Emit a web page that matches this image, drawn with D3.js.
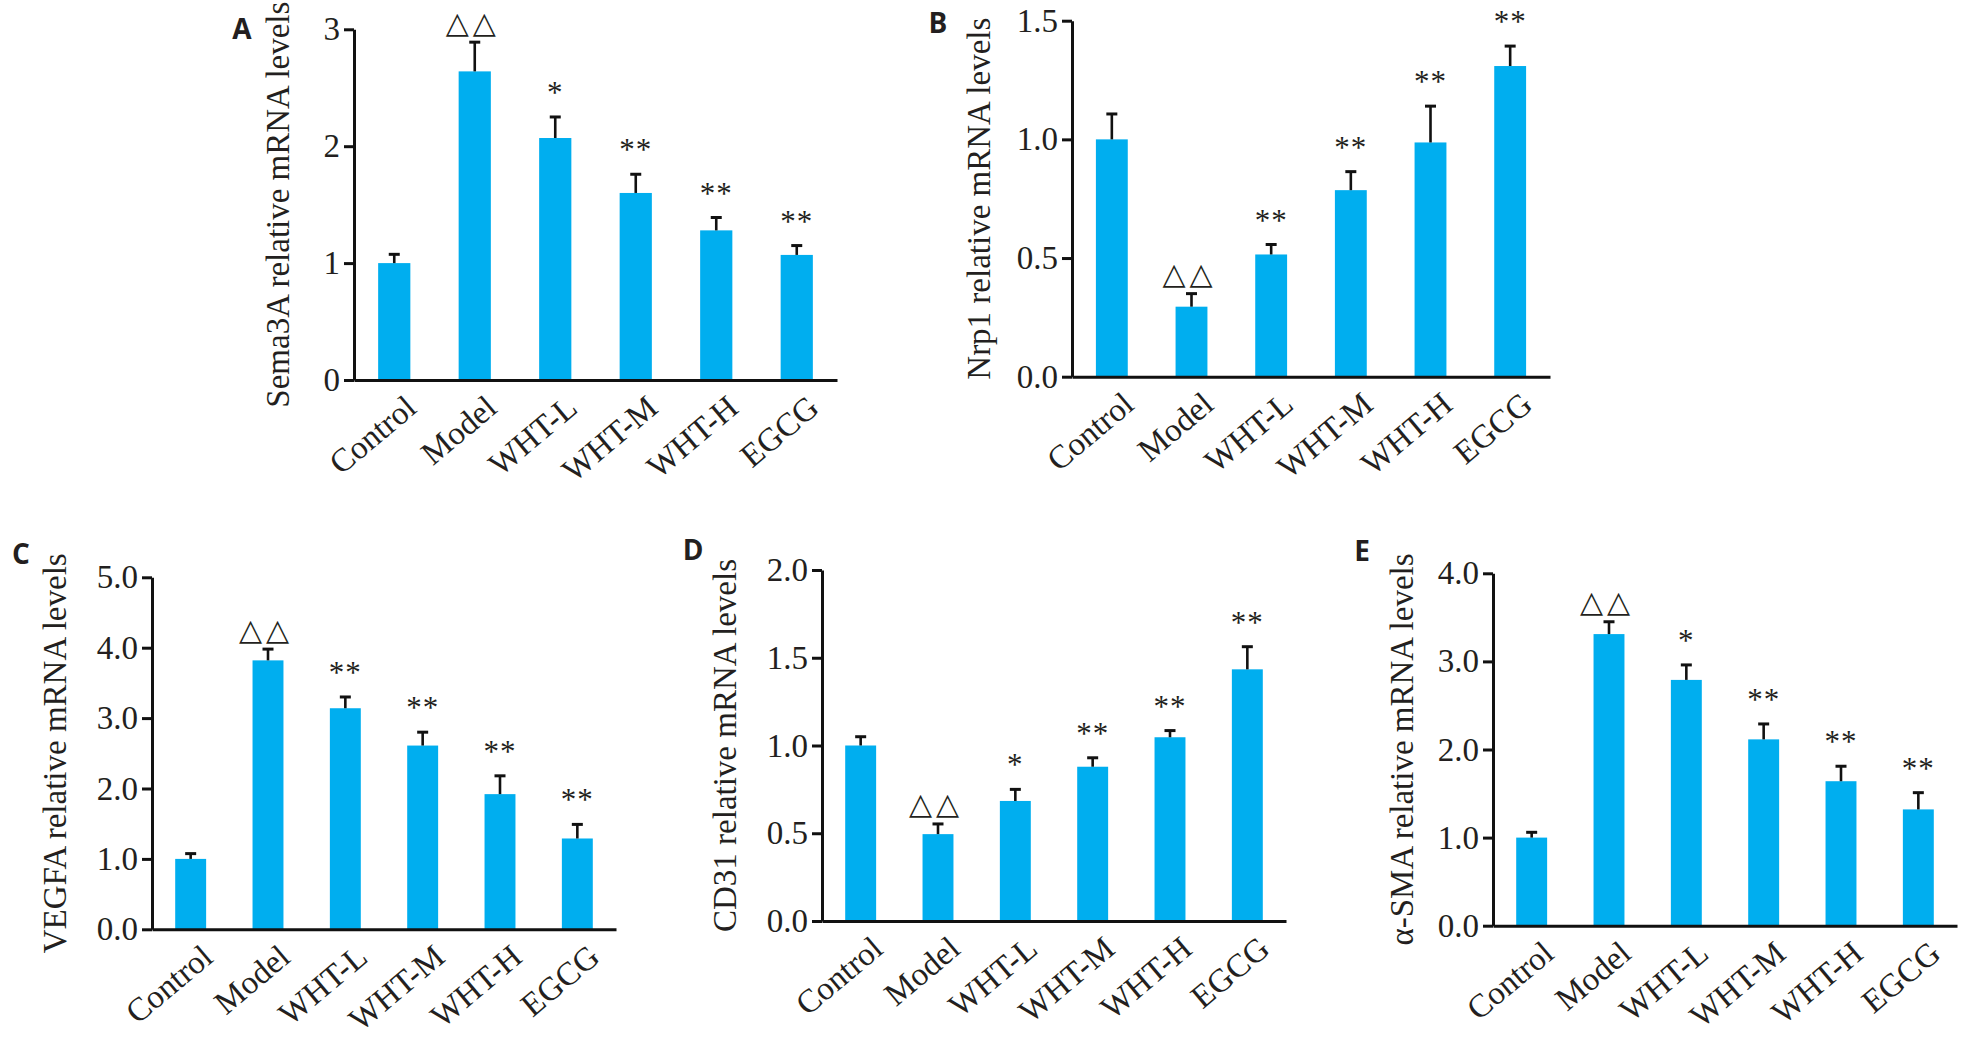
<!DOCTYPE html>
<html lang="en">
<head>
  <meta charset="UTF-8">
  <title>Relative mRNA levels</title>
  <script src="https://d3js.org/d3.v7.min.js"></script>
  <style>
    body {
      margin: 0;
      background: #fff;
    }
    svg {
      display: block;
    }
    .serif {
      font-family: "Liberation Serif", "Times New Roman", serif;
      fill: #231f20;
    }
    .panel-label {
      font-family: "Open Sans", "Liberation Sans", sans-serif;
      font-weight: 700;
      font-size: 28px;
      fill: #231f20;
    }
  </style>
</head>
<body>
  <div id="chart"></div>

  <script>
    // groups shared by every panel
    const groups = ["Control", "Model", "WHT-L", "WHT-M", "WHT-H", "EGCG"];

    // A: Sema3A
    const sema3aMean = [1.00, 2.64, 2.07, 1.60, 1.28, 1.07];
    const sema3aErr  = [0.075, 0.25, 0.18, 0.16, 0.11, 0.08];
    const sema3aSig  = ["", "△△", "*", "**", "**", "**"];
    const sema3aTicks = [0, 1, 2, 3];

    // B: Nrp1
    const nrp1Mean = [1.00, 0.295, 0.515, 0.786, 0.987, 1.309];
    const nrp1Err  = [0.107, 0.055, 0.042, 0.078, 0.153, 0.084];
    const nrp1Sig  = ["", "△△", "**", "**", "**", "**"];
    const nrp1Ticks = [0, 0.5, 1.0, 1.5];

    // C: VEGFA
    const vegfaMean = [1.00, 3.82, 3.14, 2.61, 1.92, 1.29];
    const vegfaErr  = [0.075, 0.16, 0.16, 0.19, 0.26, 0.20];
    const vegfaSig  = ["", "△△", "**", "**", "**", "**"];
    const vegfaTicks = [0, 1, 2, 3, 4, 5];

    // D: CD31
    const cd31Mean = [1.00, 0.495, 0.684, 0.879, 1.047, 1.434];
    const cd31Err  = [0.05, 0.058, 0.066, 0.051, 0.038, 0.129];
    const cd31Sig  = ["", "△△", "*", "**", "**", "**"];
    const cd31Ticks = [0, 0.5, 1.0, 1.5, 2.0];

    // E: alpha-SMA
    const smaMean = [1.00, 3.31, 2.79, 2.115, 1.64, 1.32];
    const smaErr  = [0.06, 0.14, 0.17, 0.175, 0.17, 0.19];
    const smaSig  = ["", "△△", "*", "**", "**", "**"];
    const smaTicks = [0, 1, 2, 3, 4];

    const W = 1967, H = 1038;
    const barColor = "#00aeef";

    const panels = [
      { label: "A", title: "Sema3A relative mRNA levels", mean: sema3aMean, err: sema3aErr, sig: sema3aSig,
        ticks: sema3aTicks, fmt: d3.format("d"),
        x0: 354, x1: 837, yTop: 29.3, yBot: 380, labelPos: [242, 28], titleOff: 76 },
      { label: "B", title: "Nrp1 relative mRNA levels", mean: nrp1Mean, err: nrp1Err, sig: nrp1Sig,
        ticks: nrp1Ticks, fmt: d3.format(".1f"),
        x0: 1072, x1: 1550, yTop: 20.7, yBot: 376.7, labelPos: [938, 22], titleOff: 93 },
      { label: "C", title: "VEGFA relative mRNA levels", mean: vegfaMean, err: vegfaErr, sig: vegfaSig,
        ticks: vegfaTicks, fmt: d3.format(".1f"),
        x0: 152, x1: 616, yTop: 577.3, yBot: 929.3, labelPos: [21, 553], titleOff: 97 },
      { label: "D", title: "CD31 relative mRNA levels", mean: cd31Mean, err: cd31Err, sig: cd31Sig,
        ticks: cd31Ticks, fmt: d3.format(".1f"),
        x0: 822, x1: 1286, yTop: 570, yBot: 921, labelPos: [693, 549], titleOff: 97 },
      { label: "E", title: "α-SMA relative mRNA levels", mean: smaMean, err: smaErr, sig: smaSig,
        ticks: smaTicks, fmt: d3.format(".1f"),
        x0: 1493, x1: 1957, yTop: 573.3, yBot: 925.7, labelPos: [1362, 550], titleOff: 91 }
    ];

    const svg = d3.select("#chart")
      .append("svg")
      .attr("width", W)
      .attr("height", H)
      .attr("viewBox", `0 0 ${W} ${H}`);

    panels.forEach(p => {
      const g = svg.append("g");

      const x = d3.scaleBand()
        .domain(groups)
        .range([p.x0, p.x1])
        .paddingInner(0.6)
        .paddingOuter(0.3);

      const y = d3.scaleLinear()
        .domain([0, d3.max(p.ticks)])
        .range([p.yBot, p.yTop]);

      const rows = groups.map((grp, i) => ({ grp, mean: p.mean[i], err: p.err[i], sig: p.sig[i] }));

      // bars
      g.selectAll("rect.bar")
        .data(rows)
        .enter()
        .append("rect")
        .attr("class", "bar")
        .attr("x", d => x(d.grp))
        .attr("width", x.bandwidth())
        .attr("y", d => y(d.mean))
        .attr("height", d => y(0) - y(d.mean))
        .attr("fill", barColor);

      // error bars (upper half only)
      const eb = g.selectAll("g.err")
        .data(rows)
        .enter()
        .append("g")
        .attr("class", "err")
        .attr("transform", d => `translate(${x(d.grp) + x.bandwidth() / 2},0)`);

      eb.append("line")
        .attr("x1", 0).attr("x2", 0)
        .attr("y1", d => y(d.mean))
        .attr("y2", d => y(d.mean + d.err))
        .attr("stroke", "#111")
        .attr("stroke-width", 2.6);

      eb.append("line")
        .attr("x1", -5.5).attr("x2", 5.5)
        .attr("y1", d => y(d.mean + d.err))
        .attr("y2", d => y(d.mean + d.err))
        .attr("stroke", "#111")
        .attr("stroke-width", 3);

      // significance marks
      eb.filter(d => d.sig.startsWith("*"))
        .append("text")
        .attr("class", "serif")
        .attr("text-anchor", "middle")
        .attr("y", d => y(d.mean + d.err) - 14)
        .style("font-size", "31px")
        .style("letter-spacing", "1px")
        .text(d => d.sig);

      eb.filter(d => d.sig.startsWith("△"))
        .append("text")
        .attr("text-anchor", "middle")
        .attr("dominant-baseline", "central")
        .attr("dx", -2)
        .attr("y", d => y(d.mean + d.err) - 20)
        .style("font-family", "'DejaVu Sans', sans-serif")
        .style("font-size", "30px")
        .style("letter-spacing", "4px")
        .style("fill", "#231f20")
        .text(d => d.sig);

      // y axis
      const yAxis = g.append("g")
        .attr("transform", `translate(${p.x0},0)`)
        .call(d3.axisLeft(y)
          .tickValues(p.ticks)
          .tickFormat(p.fmt)
          .tickSize(10)
          .tickSizeOuter(0)
          .tickPadding(4));

      yAxis.select(".domain").attr("stroke", "#111").attr("stroke-width", 3);
      yAxis.selectAll(".tick line").attr("stroke", "#111").attr("stroke-width", 3);
      yAxis.selectAll(".tick text")
        .attr("class", "serif")
        .attr("fill", null)
        .style("font-size", "33px");

      // x axis (baseline + rotated group names)
      const xAxis = g.append("g")
        .attr("transform", `translate(0,${y(0)})`)
        .call(d3.axisBottom(x).tickSize(0).tickSizeOuter(0));

      xAxis.select(".domain").attr("stroke", "#111").attr("stroke-width", 3);
      xAxis.selectAll(".tick text")
        .attr("class", "serif")
        .attr("fill", null)
        .attr("x", 0)
        .attr("y", 0)
        .attr("dy", "0.71em")
        .attr("text-anchor", "end")
        .attr("transform", "translate(9,13) rotate(-40)")
        .style("font-size", "33px");

      // y title
      g.append("text")
        .attr("class", "serif")
        .attr("text-anchor", "middle")
        .attr("dominant-baseline", "central")
        .attr("transform", `translate(${p.x0 - p.titleOff},${(p.yTop + p.yBot) / 2}) rotate(-90)`)
        .style("font-size", "33px")
        .text(p.title);

      // panel letter
      g.append("text")
        .attr("class", "panel-label")
        .attr("x", p.labelPos[0])
        .attr("y", p.labelPos[1])
        .attr("text-anchor", "middle")
        .attr("dominant-baseline", "central")
        .text(p.label);
    });
  </script>
</body>
</html>
